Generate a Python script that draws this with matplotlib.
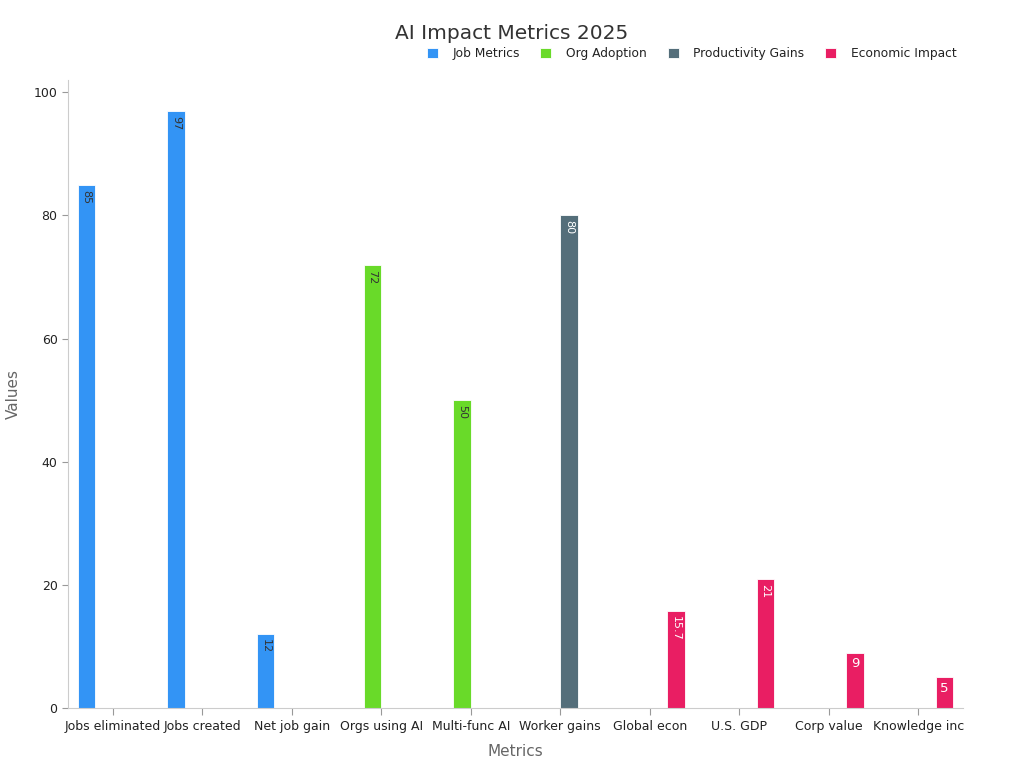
import matplotlib
matplotlib.use("Agg")
import matplotlib.pyplot as plt
import numpy as np

categories = ["Jobs eliminated", "Jobs created", "Net job gain", "Orgs using AI", "Multi-func AI",
              "Worker gains", "Global econ", "U.S. GDP", "Corp value", "Knowledge inc"]
series_names = ["Job Metrics", "Org Adoption", "Productivity Gains", "Economic Impact"]
job_metrics = [85, 97, 12, 0, 0, 0, 0, 0, 0, 0]
org_adoption = [0, 0, 0, 72, 50, 0, 0, 0, 0, 0]
productivity = [0, 0, 0, 0, 0, 80, 0, 0, 0, 0]
economic = [0, 0, 0, 0, 0, 0, 15.7, 21, 9, 5]
colors = ["#3394F5", "#69DA29", "#546E7A", "#E91E63"]
label_colors = ["#333333", "#333333", "#ffffff", "#ffffff"]

fig = plt.figure(figsize=(10.24, 7.68), dpi=100)
ax = fig.add_axes([68/1024, 60/768, (963-68)/1024, (708-80)/768])

x = np.arange(len(categories))
w = 0.195
all_series = [job_metrics, org_adoption, productivity, economic]
handles = []
for i, (vals, name, c, lc) in enumerate(zip(all_series, series_names, colors, label_colors)):
    off = (i - 1.5) * w
    bars = ax.bar(x + off, vals, width=w, color=c, edgecolor="#ffffff", linewidth=0.6, label=name)
    handles.append(bars)
    for xi, v in zip(x, vals):
        if v == 0:
            continue
        txt = ("%g" % v)
        if v >= 12:
            ax.text(xi + off, v - 0.8, txt, rotation=-90, ha="center", va="top",
                    fontsize=8, color=lc)
        else:
            ax.text(xi + off, v - 0.7, txt, ha="center", va="top", fontsize=9.5, color=lc)

ax.set_xlim(-0.5, len(categories) - 0.5)
ax.set_ylim(0, 102)
ax.set_yticks([0, 20, 40, 60, 80, 100])
ax.set_xticks(x)
ax.set_xticklabels(categories, fontsize=9, color="#222222")
ax.tick_params(axis="y", labelsize=9, colors="#222222", length=4, color="#999999")
ax.tick_params(axis="x", length=5, color="#999999")
for s in ["top", "right"]:
    ax.spines[s].set_visible(False)
for s in ["left", "bottom"]:
    ax.spines[s].set_color("#cccccc")
ax.set_xlabel("Metrics", fontsize=11, color="#666666", labelpad=8)
ax.set_ylabel("Values", fontsize=11, color="#666666", labelpad=9)

fig.text(0.5, 0.957, "AI Impact Metrics 2025", ha="center", va="center", fontsize=14.5, color="#333333")
leg = fig.legend(handles=handles, labels=series_names, loc="center right", bbox_to_anchor=(0.945, 0.930),
                 ncol=4, frameon=False, fontsize=8.8, handlelength=0.9, handleheight=0.9,
                 columnspacing=1.7, handletextpad=1.2)
for t in leg.get_texts():
    t.set_color("#222222")

fig.savefig("out.png", dpi=100)
